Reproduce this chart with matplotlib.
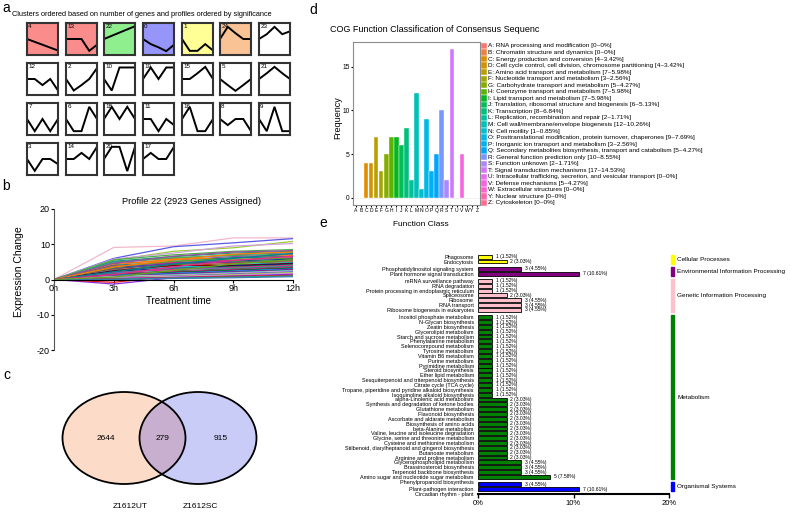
import numpy as np
import matplotlib
matplotlib.use('Agg')
import matplotlib.pyplot as plt
from matplotlib.patches import Ellipse, Rectangle

plt.rcParams['font.family'] = ['Liberation Sans', 'DejaVu Sans']
plt.rcParams['axes.unicode_minus'] = False

# ---------------- data ----------------
# a: STEM profiles (box heights, 0 = bottom, 1 = top)
cluster_rows = [[4, 13, 22, 0, 1, 24, 23],
                [12, 2, 10, 19, 15, 5, 21],
                [7, 6, 18, 11, 16, 8, 9],
                [3, 14, 20, 17]]
profiles = {
    4: [0.5, 0.41, 0.32, 0.23, 0.14],
    13: [0.5, 0.5, 0.5, 0.13, 0.32],
    22: [0.5, 0.6, 0.7, 0.8, 0.9],
    0: [0.5, 0.34, 0.24, 0.12, 0.32],
    1: [0.5, 0.13, 0.13, 0.34, 0.14],
    24: [0.5, 0.88, 0.68, 0.5, 0.5],
    23: [0.5, 0.65, 0.88, 0.65, 0.74],
    12: [0.5, 0.5, 0.31, 0.5, 0.14],
    2: [0.5, 0.14, 0.31, 0.5, 0.84],
    10: [0.5, 0.14, 0.86, 0.86, 0.86],
    19: [0.5, 0.86, 0.5, 0.86, 0.86],
    15: [0.5, 0.5, 0.68, 0.88, 0.5],
    5: [0.5, 0.31, 0.13, 0.31, 0.5],
    21: [0.5, 0.68, 0.88, 0.68, 0.5],
    7: [0.5, 0.12, 0.5, 0.12, 0.5],
    6: [0.5, 0.12, 0.12, 0.88, 0.5],
    18: [0.5, 0.88, 0.5, 0.88, 0.5],
    11: [0.5, 0.5, 0.12, 0.5, 0.31],
    16: [0.5, 0.88, 0.12, 0.12, 0.5],
    8: [0.5, 0.31, 0.5, 0.5, 0.12],
    9: [0.5, 0.12, 0.88, 0.12, 0.12],
    3: [0.5, 0.13, 0.5, 0.5, 0.34],
    14: [0.5, 0.5, 0.69, 0.5, 0.88],
    20: [0.5, 0.88, 0.88, 0.12, 0.88],
    17: [0.5, 0.69, 0.5, 0.5, 0.88],
}
box_colors = {4: '#FA8C8C', 13: '#FA8C8C', 22: '#8FEF8F', 0: '#9696FA',
              1: '#FFFF96', 24: '#FAC396'}

# b: profile 22 genes (values at 3h, 6h, 9h, 12h; all start at 0)
times = [0, 3, 6, 9, 12]
time_labels = ['0h', '3h', '6h', '9h', '12h']
gene_curves = [
    [9.1, 9.5, 11.8, 11.8], [6.0, 9.3, 10.4, 11.6], [5.5, 8.0, 9.0, 10.8],
    [5.8, 7.5, 9.5, 10.2], [-1.3, 0.5, 1.5, 2.0], [-0.8, 1.0, 2.0, 3.0],
    [5.2, 6.5, 7.5, 8.0], [5.0, 6.0, 7.0, 7.6], [4.8, 6.2, 6.8, 7.2],
    [4.5, 5.5, 6.5, 7.0], [4.2, 5.8, 6.0, 6.8], [4.0, 5.0, 6.2, 6.5],
    [3.8, 4.8, 5.5, 6.2], [3.6, 5.2, 5.8, 6.0], [3.4, 4.5, 5.2, 5.8],
    [3.2, 4.2, 5.0, 5.5], [3.0, 4.6, 4.8, 5.3], [2.8, 3.8, 4.6, 5.0],
    [2.6, 3.5, 4.2, 4.8], [2.5, 4.0, 4.0, 4.6], [2.3, 3.2, 3.8, 4.4],
    [2.1, 3.0, 3.6, 4.2], [2.0, 2.8, 3.4, 4.0], [1.8, 3.3, 3.2, 3.8],
    [1.6, 2.5, 3.0, 3.6], [1.5, 2.2, 2.8, 3.4], [1.3, 2.0, 2.6, 3.2],
    [1.2, 1.8, 2.4, 3.0], [1.0, 1.6, 2.2, 2.8], [0.9, 1.4, 2.0, 2.6],
    [0.8, 1.2, 1.8, 2.4], [0.6, 1.0, 1.6, 2.2], [0.5, 0.9, 1.4, 2.0],
    [0.4, 0.8, 1.2, 1.8], [0.3, 0.6, 1.0, 1.5], [0.2, 0.5, 0.9, 1.2],
    [0.1, 0.4, 0.7, 1.0], [0.0, 0.3, 0.5, 0.8], [5.6, 7.0, 8.0, 8.5],
    [4.6, 6.6, 7.8, 8.2], [3.5, 5.6, 7.2, 7.8], [2.2, 4.4, 6.0, 7.4],
    [1.4, 3.6, 5.4, 6.6], [0.7, 2.6, 4.4, 5.6],
]
line_colors = ['#f4b8c8', '#5a5ae6', '#9acd32', '#d4a0e0', '#8a2be2', '#e41a1c',
               '#1b9e77', '#377eb8', '#4daf4a', '#984ea3', '#ff7f00', '#00838f',
               '#e7298a', '#66a61e', '#1f3f99', '#33a02c', '#6a3d9a', '#b15928',
               '#00ced1', '#8b0000', '#000080', '#228b22', '#ff1493', '#4682b4',
               '#2e8b57', '#c71585', '#006400', '#1e90ff', '#8b008b', '#20b2aa']

# c: Venn
venn_counts = [2644, 279, 915]
venn_names = ['Z1612UT', 'Z1612SC']

# d: COG classes
cog_letters = list('ABCDEFGHIJKLMNOPQRSTUVWYZ')
cog_counts = [0, 0, 4, 4, 7, 3, 5, 7, 7, 6, 8, 2, 12, 1, 9, 3, 5, 10, 2, 17, 0, 5, 0, 0, 0]
cog_names = ['RNA processing and modification',
             'Chromatin structure and dynamics',
             'Energy production and conversion',
             'Cell cycle control, cell division, chromosome partitioning',
             'Amino acid transport and metabolism',
             'Nucleotide transport and metabolism',
             'Carbohydrate transport and metabolism',
             'Coenzyme transport and metabolism',
             'Lipid transport and metabolism',
             'Translation, ribosomal structure and biogenesis',
             'Transcription',
             'Replication, recombination and repair',
             'Cell wall/membrane/envelope biogenesis',
             'Cell motility',
             'Posttranslational modification, protein turnover, chaperones',
             'Inorganic ion transport and metabolism',
             'Secondary metabolites biosynthesis, transport and catabolism',
             'General function prediction only',
             'Function unknown',
             'Signal transduction mechanisms',
             'Intracellular trafficking, secretion, and vesicular transport',
             'Defense mechanisms',
             'Extracellular structures',
             'Nuclear structure',
             'Cytoskeleton']

# e: KEGG pathways
kegg_total = 66
kegg_groups = ['Cellular Processes', 'Environmental Information Processing',
               'Genetic Information Processing', 'Metabolism', 'Organismal Systems']
kegg_group_colors = ['#FFFF00', '#800080', '#FFC0CB', '#008000', '#0000FF']
kegg_paths = [
    ['Phagosome', 'Endocytosis'],
    ['Phosphatidylinositol signaling system', 'Plant hormone signal transduction'],
    ['mRNA surveillance pathway', 'RNA degradation',
     'Protein processing in endoplasmic reticulum', 'Spliceosome', 'Ribosome',
     'RNA transport', 'Ribosome biogenesis in eukaryotes'],
    ['Inositol phosphate metabolism', 'N-Glycan biosynthesis', 'Zeatin biosynthesis',
     'Glycerolipid metabolism', 'Starch and sucrose metabolism',
     'Phenylalanine metabolism', 'Selenocompound metabolism', 'Tyrosine metabolism',
     'Vitamin B6 metabolism', 'Purine metabolism', 'Pyrimidine metabolism',
     'Steroid biosynthesis', 'Ether lipid metabolism',
     'Sesquiterpenoid and triterpenoid biosynthesis', 'Citrate cycle (TCA cycle)',
     'Tropane, piperidine and pyridine alkaloid biosynthesis',
     'Isoquinoline alkaloid biosynthesis', 'alpha-Linolenic acid metabolism',
     'Synthesis and degradation of ketone bodies', 'Glutathione metabolism',
     'Flavonoid biosynthesis', 'Ascorbate and aldarate metabolism',
     'Biosynthesis of amino acids', 'beta-Alanine metabolism',
     'Valine, leucine and isoleucine degradation',
     'Glycine, serine and threonine metabolism', 'Cysteine and methionine metabolism',
     'Stilbenoid, diarylheptanoid and gingerol biosynthesis', 'Butanoate metabolism',
     'Arginine and proline metabolism', 'Glycerophospholipid metabolism',
     'Brassinosteroid biosynthesis', 'Terpenoid backbone biosynthesis',
     'Amino sugar and nucleotide sugar metabolism', 'Phenylpropanoid biosynthesis'],
    ['Plant-pathogen interaction', 'Circadian rhythm - plant'],
]
kegg_counts = [
    [1, 2],
    [3, 7],
    [1, 1, 1, 2, 3, 3, 3],
    [1] * 17 + [2] * 13 + [3, 3, 3, 5],
    [3, 7],
]

# ---------------- figure ----------------
W, H = 790, 512
fig = plt.figure(figsize=(W / 100, H / 100), dpi=100)


def px_axes(x0, y0, x1, y1):
    return fig.add_axes([x0 / W, 1 - y1 / H, (x1 - x0) / W, (y1 - y0) / H])


# overlay in pixel coordinates for free text / shapes
ov = fig.add_axes([0, 0, 1, 1])
ov.set_xlim(0, W)
ov.set_ylim(H, 0)
ov.axis('off')

# panel letters
for letter, (lx, ly) in zip('abcde', [(2, 8), (2, 186), (3, 375), (309, 10), (319, 223)]):
    ov.text(lx, ly, letter, fontsize=10, va='center', ha='left')

# ---- a ----
ov.text(12, 15, 'Clusters ordered based on number of genes and profiles ordered by significance',
        fontsize=5.3, va='center', ha='left')
col_x = [27, 66, 104, 143, 182, 220, 259]
row_y = [23, 63, 103, 143]
for r, row in enumerate(cluster_rows):
    for c, cid in enumerate(row):
        bx = px_axes(col_x[c], row_y[r], col_x[c] + 31, row_y[r] + 32)
        bx.set_facecolor(box_colors.get(cid, 'white'))
        bx.plot(range(5), profiles[cid], color='black', lw=1.4, solid_joinstyle='miter')
        bx.set_xlim(0, 4)
        bx.set_ylim(0, 1)
        bx.set_xticks([])
        bx.set_yticks([])
        for s in bx.spines.values():
            s.set_linewidth(1.5)
            s.set_color('#333333')
        bx.text(0.04, 0.97, str(cid), transform=bx.transAxes, fontsize=4.5,
                va='top', ha='left')

# ---- b ----
axb = px_axes(54, 209, 293, 350)
for i, g in enumerate(gene_curves):
    axb.plot(times, [0] + g, color=line_colors[i % len(line_colors)], lw=0.9)
axb.set_xlim(0, 12)
axb.set_ylim(-20, 20)
axb.spines['bottom'].set_position(('data', 0))
axb.spines['top'].set_visible(False)
axb.spines['right'].set_visible(False)
axb.spines['left'].set_color('#555555')
axb.set_xticks(times, time_labels)
axb.set_yticks([-20, -10, 0, 10, 20])
axb.tick_params(labelsize=6.5, length=2, pad=1)
axb.set_facecolor('none')
ov.text(192, 202, 'Profile 22 (2923 Genes Assigned)', fontsize=6.7, ha='center', va='center')
ov.text(178, 301, 'Treatment time', fontsize=7, ha='center', va='center')
ov.text(19, 272, 'Expression Change', fontsize=7.5, ha='center', va='center', rotation=90)

# ---- c ----
left = Ellipse((124, 438), 123, 92, fc='#FCDCC8', ec='none')
right = Ellipse((198, 438), 117, 92, fc='#C9CCF7', ec='none')
ov.add_patch(left)
ov.add_patch(right)
mid = Ellipse((198, 438), 117, 92, fc='#C8AFCF', ec='none')
ov.add_patch(mid)
mid.set_clip_path(left)
for e in [Ellipse((124, 438), 123, 92), Ellipse((198, 438), 117, 92)]:
    e.set_facecolor('none')
    e.set_edgecolor('black')
    e.set_linewidth(1.3)
    ov.add_patch(e)
for val, vx in zip(venn_counts, [106, 163, 221]):
    ov.text(vx, 439, str(val), fontsize=6, ha='center', va='center')
for name, nx in zip(venn_names, [130, 200]):
    ov.text(nx, 506, name, fontsize=6, ha='center', va='center')


# ---- d ----
def hcl_rgb(h, c=100, l=65):
    hr = np.deg2rad(h)
    u, v = c * np.cos(hr), c * np.sin(hr)
    xn, yn, zn = 95.047, 100.0, 108.883
    un = 4 * xn / (xn + 15 * yn + 3 * zn)
    vn = 9 * yn / (xn + 15 * yn + 3 * zn)
    y = yn * ((l + 16) / 116) ** 3
    up, vp = u / (13 * l) + un, v / (13 * l) + vn
    x = y * 9 * up / (4 * vp)
    z = y * (12 - 3 * up - 20 * vp) / (4 * vp)
    m = np.array([[3.2406, -1.5372, -0.4986], [-0.9689, 1.8758, 0.0415],
                  [0.0557, -0.2040, 1.0570]])
    rgb = m @ (np.array([x, y, z]) / 100)
    rgb = np.clip(rgb, 0, None)
    rgb = np.where(rgb <= 0.0031308, 12.92 * rgb, 1.055 * rgb ** (1 / 2.4) - 0.055)
    return tuple(np.clip(rgb, 0, 1))


n_cog = len(cog_letters)
cog_colors = [hcl_rgb(15 + i * 360 / n_cog) for i in range(n_cog)]
axd = px_axes(353, 42, 480, 205)
xs = np.arange(1, n_cog + 1)
axd.axhline(0, color='#ebebeb', lw=0.6, zorder=0)
axd.bar(xs, cog_counts, width=0.9, color=cog_colors, edgecolor='white', linewidth=0.3)
axd.set_xlim(0.4, n_cog + 0.6)
axd.set_ylim(-0.85, 17.85)
axd.set_xticks(xs, cog_letters)
axd.set_yticks([0, 5, 10, 15])
axd.tick_params(axis='x', labelsize=3.6, length=1.5, pad=1)
axd.tick_params(axis='y', labelsize=4.8, length=1.5, pad=1)
for s in axd.spines.values():
    s.set_color('#8c8c8c')
    s.set_linewidth(0.8)
ov.text(330, 29, 'COG Function Classification of Consensus Sequenc', fontsize=6.5,
        ha='left', va='center')
ov.text(338, 118, 'Frequency', fontsize=6.5, ha='center', va='center', rotation=90)
ov.text(421, 225, 'Function Class', fontsize=6, ha='center', va='center')
cog_total = sum(cog_counts)
for i in range(n_cog):
    ly = 46 + i * 6.54
    ov.add_patch(Rectangle((481, ly - 3.2), 5.5, 6.4, fc=cog_colors[i], ec='white', lw=0.3))
    pct = cog_counts[i] / cog_total * 100
    pct_s = '0' if cog_counts[i] == 0 else f'{pct:.2f}'
    ov.text(488, ly, f'{cog_letters[i]}: {cog_names[i]} [{cog_counts[i]}~{pct_s}%]',
            fontsize=4.6, ha='left', va='center')

# ---- e ----
axe = px_axes(478, 252, 669, 494)
pos = 0.0
for gi, (names, counts) in enumerate(zip(kegg_paths, kegg_counts)):
    gpos = []
    for name, n in zip(names, counts):
        pct = n / kegg_total * 100
        axe.barh(pos, pct, height=0.8, color=kegg_group_colors[gi], edgecolor='black', lw=0.6)
        axe.text(pct + 0.35, pos, f'{n} ({pct:.2f}%)', fontsize=3.6, va='center', ha='left')
        gpos.append(pos)
        pos += 1
    axe.add_patch(Rectangle((20.2, gpos[0] - 0.45), 0.35, gpos[-1] - gpos[0] + 0.9,
                            color=kegg_group_colors[gi], clip_on=False))
    axe.text(20.85, (gpos[0] + gpos[-1]) / 2, kegg_groups[gi], fontsize=4.6,
             va='center', ha='left', clip_on=False)
    pos += 0.5
all_pos = []
all_names = []
p = 0.0
for names in kegg_paths:
    for name in names:
        all_pos.append(p)
        all_names.append(name)
        p += 1
    p += 0.5
axe.set_yticks(all_pos, all_names)
axe.tick_params(axis='y', length=0, labelsize=4, pad=3)
axe.set_ylim(49.03, -0.97)
axe.set_xlim(0, 20)
axe.set_xticks([0, 10, 20], ['0%', '10%', '20%'])
axe.tick_params(axis='x', labelsize=5.5, length=3, width=1, pad=1)
for side in ['top', 'right', 'left']:
    axe.spines[side].set_visible(False)
axe.spines['bottom'].set_linewidth(1.5)
axe.set_facecolor('none')

fig.savefig('out.png', dpi=100)
